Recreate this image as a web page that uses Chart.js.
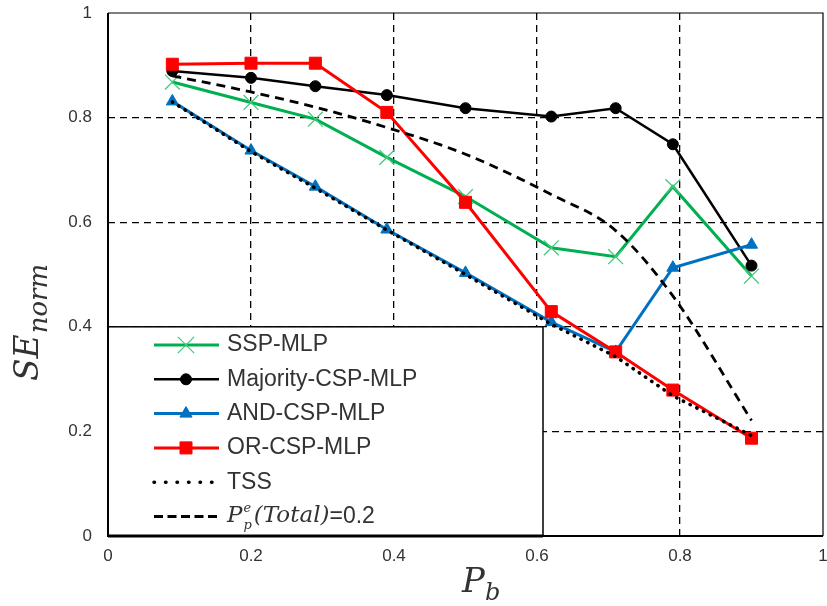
<!DOCTYPE html>
<html>
<head>
<meta charset="utf-8">
<script src="https://cdn.jsdelivr.net/npm/chart.js@4.4.0/dist/chart.umd.min.js"></script>
<style>
  html, body { margin: 0; padding: 0; background: #fff; }
  #wrap { width: 827px; height: 606px; }
</style>
</head>
<body>
<div id="wrap"><canvas id="chart" width="827" height="606"></canvas></div>
<script>
// P_b values shared by every series
const pbValues = [0.09, 0.2, 0.29, 0.39, 0.5, 0.62, 0.71, 0.79, 0.9];

const sspMlp      = [0.868, 0.829, 0.797, 0.724, 0.649, 0.551, 0.534, 0.668, 0.497];
const majorityCsp = [0.889, 0.876, 0.860, 0.843, 0.818, 0.802, 0.818, 0.749, 0.517];
const andCsp      = [0.831, 0.737, 0.668, 0.586, 0.503, 0.409, 0.352, 0.513, 0.557];
const orCsp       = [0.902, 0.904, 0.904, 0.810, 0.638, 0.429, 0.352, 0.279, 0.187];
const tss         = [0.830, 0.735, 0.665, 0.585, 0.500, 0.405, 0.343, 0.268, 0.192];
const ppTotal02   = [0.880, 0.849, 0.820, 0.781, 0.730, 0.653, 0.584, 0.459, 0.221];

const seriesNames = ['SSP-MLP', 'Majority-CSP-MLP', 'AND-CSP-MLP', 'OR-CSP-MLP', 'TSS', 'Pp(Total)=0.2'];
const tickValues = [0, 0.2, 0.4, 0.6, 0.8, 1];

const TICK_FONT = "'Liberation Sans', Arial, sans-serif";
const MATH_FONT = "'DejaVu Serif', serif";
const TEXT_COL = '#333';

const pts = ys => pbValues.map((x, i) => ({ x, y: ys[i] }));
const fmt = v => String(Math.round(v * 10) / 10);

// legend box in the lower left corner, drawn over the grid but under the lines
const boxLegend = {
  id: 'boxLegend',
  beforeDatasetsDraw(chart) {
    const { ctx, chartArea } = chart;
    const left = chartArea.left, top = chart.scales.y.getPixelForValue(0.4), right = 543, bottom = chartArea.bottom;
    ctx.save();
    ctx.fillStyle = '#fff';
    ctx.fillRect(left, top, right - left, bottom - top);
    ctx.strokeStyle = '#000';
    ctx.lineWidth = 1.5;
    ctx.strokeRect(left, top, right - left, bottom - top);

    chart.data.datasets.forEach((ds, i) => {
      const y = 345 + i * 34.3;
      ctx.save();
      ctx.strokeStyle = ds.borderColor;
      ctx.lineWidth = ds.borderWidth;
      ctx.setLineDash(ds.legendDash || ds.borderDash || []);
      ctx.lineCap = ds.borderCapStyle || 'butt';
      ctx.beginPath();
      ctx.moveTo(154, y); ctx.lineTo(219, y);
      ctx.stroke();
      ctx.restore();
      if (ds.pointRadius > 0) {
        ctx.save();
        ctx.fillStyle = ds.pointBackgroundColor;
        ctx.strokeStyle = ds.pointBorderColor;
        ctx.lineWidth = ds.pointBorderWidth;
        Chart.helpers.drawPoint(ctx, {
          pointStyle: ds.pointStyle, rotation: 0,
          radius: ds.legendRadius || ds.pointRadius, borderWidth: ds.pointBorderWidth
        }, 186, y);
        ctx.restore();
      }
      ctx.fillStyle = TEXT_COL;
      ctx.textBaseline = 'middle';
      ctx.textAlign = 'left';
      if (ds.mathLabel) {
        // P_p^e (Total) = 0.2
        let x = 227;
        ctx.font = 'italic 23px ' + MATH_FONT;
        ctx.fillText('P', x, y);
        x += ctx.measureText('P').width + 1;
        ctx.font = 'italic 13px ' + MATH_FONT;
        ctx.fillText('e', x, y - 8);
        ctx.fillText('p', x, y + 9);
        x += ctx.measureText('p').width + 2;
        ctx.font = 'italic 23px ' + MATH_FONT;
        ctx.fillText('(Total)', x, y);
        x += ctx.measureText('(Total)').width;
        ctx.font = '23px ' + TICK_FONT;
        ctx.fillText('=0.2', x, y);
      } else {
        ctx.font = '23px ' + TICK_FONT;
        ctx.fillText(ds.label, 227, y);
      }
    });
    ctx.lineWidth = 3;
    ctx.beginPath();
    ctx.moveTo(left, bottom); ctx.lineTo(right, bottom);
    ctx.stroke();
    ctx.restore();
  }
};

// plot frame and axis titles with sub/superscripts
const frameAndTitles = {
  id: 'frameAndTitles',
  afterDraw(chart) {
    const { ctx, chartArea: a } = chart;
    ctx.save();
    ctx.strokeStyle = '#000';
    ctx.lineWidth = 1.2;
    ctx.beginPath();
    ctx.moveTo(a.left, a.top); ctx.lineTo(a.right, a.top); ctx.lineTo(a.right, a.bottom);
    ctx.stroke();
    ctx.lineWidth = 2;
    ctx.beginPath();
    ctx.moveTo(a.left, a.top); ctx.lineTo(a.left, a.bottom); ctx.lineTo(a.right, a.bottom);
    ctx.stroke();

    ctx.fillStyle = TEXT_COL;
    ctx.textAlign = 'left';
    ctx.textBaseline = 'alphabetic';
    // x title: P_b
    ctx.font = 'italic 34px ' + MATH_FONT;
    ctx.fillText('P', 462, 592);
    const pw = ctx.measureText('P').width;
    ctx.font = 'italic 24px ' + MATH_FONT;
    ctx.fillText('b', 462 + pw, 600);

    // y title: SE_norm
    ctx.translate(38, 381);
    ctx.rotate(-Math.PI / 2);
    ctx.font = 'italic 33px ' + MATH_FONT;
    ctx.fillText('SE', 0, 0);
    const sw = ctx.measureText('SE').width;
    ctx.font = 'italic 26px ' + MATH_FONT;
    ctx.fillText('norm', sw + 1, 9);
    ctx.restore();
  }
};

const gridColor = c => (c.tick && c.tick.value > 0.01 && c.tick.value < 0.99) ? '#000' : 'rgba(0,0,0,0)';

new Chart(document.getElementById('chart'), {
  type: 'line',
  data: {
    datasets: [
      {
        label: seriesNames[0], data: pts(sspMlp),
        borderColor: '#00B050', borderWidth: 3,
        pointStyle: 'crossRot', pointRadius: 10.5, legendRadius: 11.5,
        pointBorderColor: '#45c97c', pointBackgroundColor: '#45c97c', pointBorderWidth: 1.3,
        order: 5
      },
      {
        label: seriesNames[1], data: pts(majorityCsp),
        borderColor: '#000', borderWidth: 2.5,
        pointStyle: 'circle', pointRadius: 5.5,
        pointBorderColor: '#000', pointBackgroundColor: '#000', pointBorderWidth: 1,
        order: 4
      },
      {
        label: seriesNames[2], data: pts(andCsp),
        borderColor: '#0070C0', borderWidth: 3,
        pointStyle: 'triangle', pointRadius: 7,
        pointBorderColor: '#0070C0', pointBackgroundColor: '#0070C0', pointBorderWidth: 1,
        order: 3
      },
      {
        label: seriesNames[3], data: pts(orCsp),
        borderColor: '#FF0000', borderWidth: 3,
        pointStyle: 'rect', pointRadius: 8.5,
        pointBorderColor: '#FF0000', pointBackgroundColor: '#FF0000', pointBorderWidth: 1,
        order: 2
      },
      {
        label: seriesNames[4], data: pts(tss),
        borderColor: '#000', borderWidth: 3.5,
        borderDash: [0.5, 7], legendDash: [0.5, 11], borderCapStyle: 'round',
        pointRadius: 0,
        order: 1
      },
      {
        label: seriesNames[5], data: pts(ppTotal02), mathLabel: true,
        borderColor: '#000', borderWidth: 2.8,
        borderDash: [9, 6], legendDash: [9, 4.5],
        cubicInterpolationMode: 'monotone',
        pointRadius: 0,
        order: 0
      }
    ]
  },
  options: {
    responsive: false,
    animation: false,
    devicePixelRatio: 1,
    layout: { autoPadding: false, padding: { top: 13, right: 4, left: 0, bottom: 0 } },
    plugins: { legend: { display: false }, tooltip: { enabled: false } },
    scales: {
      x: {
        type: 'linear', min: 0, max: 1,
        afterBuildTicks: s => { s.ticks = tickValues.map(v => ({ value: v })); },
        ticks: { color: TEXT_COL, font: { family: TICK_FONT, size: 17 }, padding: 10, callback: fmt, maxRotation: 0 },
        grid: { color: gridColor, lineWidth: 1.3, drawTicks: false },
        border: { display: false, dash: [7, 5] },
        afterFit: s => { s.height = 70; s.paddingLeft = 0; s.paddingRight = 0; }
      },
      y: {
        type: 'linear', min: 0, max: 1,
        afterBuildTicks: s => { s.ticks = tickValues.map(v => ({ value: v })); },
        ticks: { color: TEXT_COL, font: { family: TICK_FONT, size: 17 }, padding: 16, callback: fmt },
        grid: { color: gridColor, lineWidth: 1.3, drawTicks: false },
        border: { display: false, dash: [7, 5] },
        afterFit: s => { s.width = 108; s.paddingTop = 0; s.paddingBottom = 0; }
      }
    }
  },
  plugins: [boxLegend, frameAndTitles]
});
</script>
</body>
</html>
